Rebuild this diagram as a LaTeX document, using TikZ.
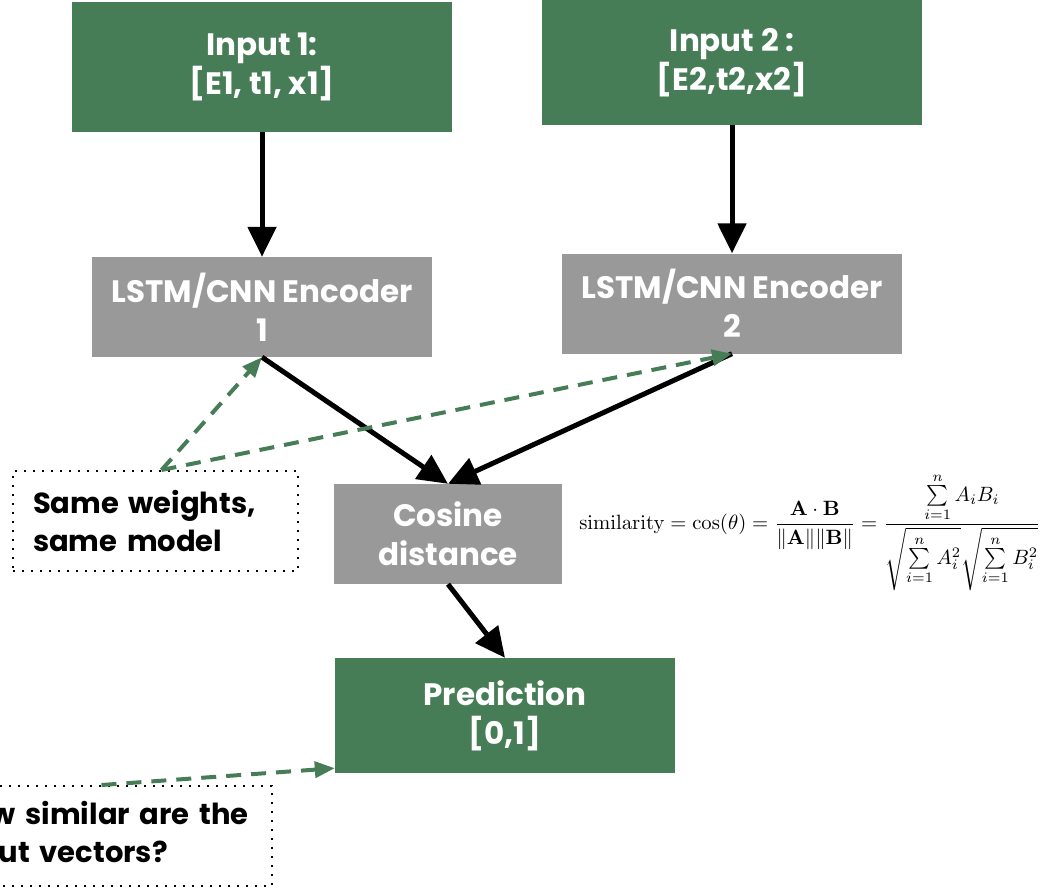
\documentclass[tikz,border=0pt]{standalone}
\usepackage{amsmath}
\usepackage[no-math]{fontspec}
\setmainfont{Poppins}
\usetikzlibrary{arrows.meta}
\definecolor{boxgreen}{RGB}{70,125,86}
\definecolor{boxgray}{RGB}{153,153,153}
\tikzset{
  greenbox/.style={fill=boxgreen,text=white,font=\bfseries\fontsize{31}{39}\selectfont,align=center,inner sep=0pt},
  graybox/.style={fill=boxgray,text=white,font=\bfseries\fontsize{31}{39}\selectfont,align=center,inner sep=0pt},
  notebox/.style={draw,line width=2pt,dash pattern=on 2pt off 7pt,font=\bfseries\fontsize{29}{38}\selectfont,align=left,inner xsep=20pt,inner ysep=0pt,minimum height=100pt,anchor=north west},
  flow/.style={line width=5pt,-{Triangle[length=30pt,width=28pt]}},
  share/.style={boxgreen,line width=4pt,dash pattern=on 15pt off 10pt,-{Triangle[length=20pt,width=16pt]}}
}
\begin{document}
\begin{tikzpicture}[x=1pt,y=-1pt]
\useasboundingbox (0,0) rectangle (1046,889);
\clip (0,0) rectangle (1046,889);
% boxes
\node[greenbox,minimum width=380pt,minimum height=130pt] (in1) at (262,67) {Input 1:\\{[E1, t1, x1]}};
\node[greenbox,minimum width=380pt,minimum height=125pt] (in2) at (732,62.5) {Input 2 :\\{[E2,t2,x2]}};
\node[graybox,minimum width=340pt,minimum height=100pt] (enc1) at (262,307) {LSTM/CNN Encoder\\1};
\node[graybox,minimum width=340pt,minimum height=100pt] (enc2) at (732,303.5) {LSTM/CNN Encoder\\2};
\node[graybox,minimum width=228pt,minimum height=100pt] (cosdist) at (448,534) {Cosine\\distance};
\node[greenbox,minimum width=340pt,minimum height=115pt] (pred) at (505,715.5) {Prediction\\{[0,1]}};
% formula next to the cosine box
\node (formula) at (810,532) {\scalebox{2.07}{$\displaystyle \mathrm{similarity}=\cos(\theta)=\frac{\mathbf{A}\cdot\mathbf{B}}{\|\mathbf{A}\|\|\mathbf{B}\|}=\frac{\sum\limits_{i=1}^{n}A_iB_i}{\sqrt{\sum\limits_{i=1}^{n}A_i^2}\sqrt{\sum\limits_{i=1}^{n}B_i^2}}$}};
% notes
\node[notebox,text width=245pt] (samenote) at (12,470) {Same weights,\\same model};
\node[notebox,text width=301pt] (simnote) at (-70,785) {\mbox{How similar are the}\\\mbox{input vectors?}};
% main flow
\draw[flow] (in1.south) -- (enc1.north);
\draw[flow] (in2.south) -- (enc2.north);
\draw[flow] (enc1.south) -- (cosdist.north);
\draw[flow] (enc2.south) -- (cosdist.north);
\draw[flow] (cosdist.south) -- (pred.north);
% dashed pointers
\draw[share] ([xshift=6pt]samenote.north) -- (enc1.south);
\draw[share] ([xshift=6pt]samenote.north) -- (enc2.south);
\draw[share] (simnote.north) -- ([yshift=5pt]pred.south west);
\end{tikzpicture}
\end{document}
